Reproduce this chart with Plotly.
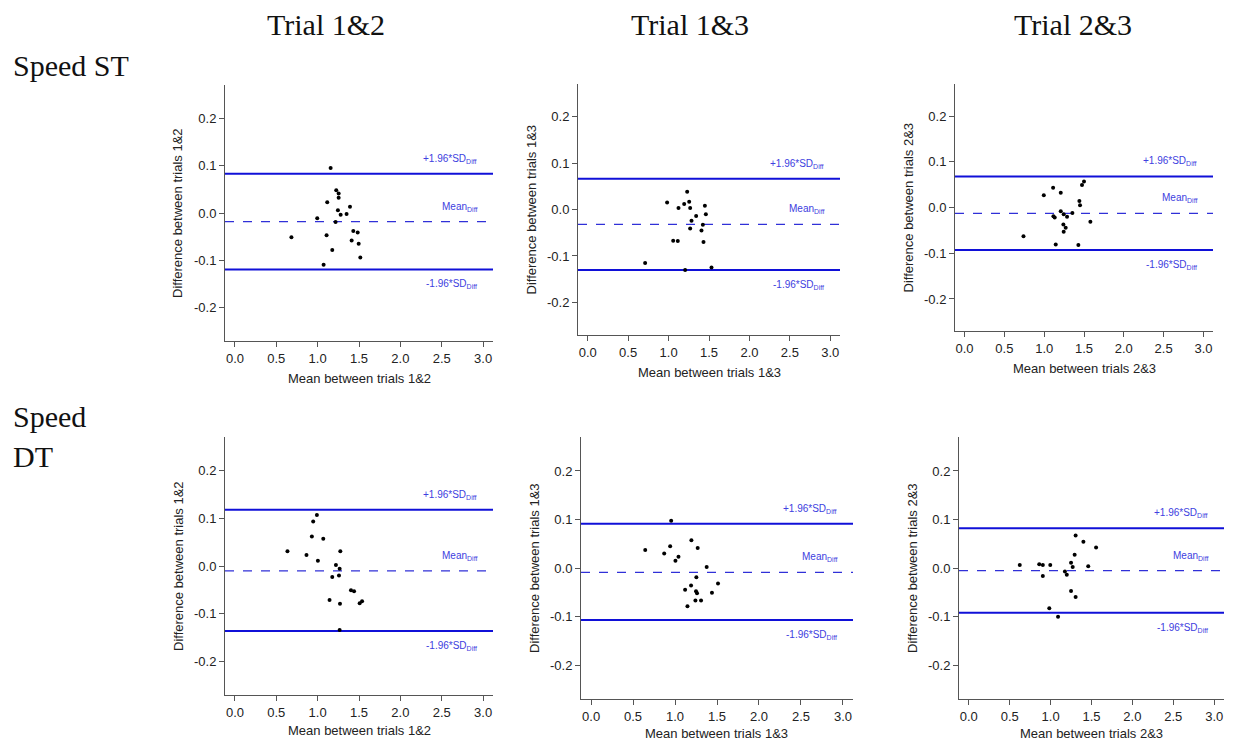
import plotly.graph_objects as go

# page body has an 8px margin (top/left); work in window pixels and convert
OFF = 8
W, H = 1233 - OFF, 742 - OFF

# ---------------- data ----------------
col_titles = ["Trial 1&2", "Trial 1&3", "Trial 2&3"]
row_titles = ["Speed ST", "Speed", "DT"]
pair_labels = ["1&2", "1&3", "2&3"]

st12_x = [1.157, 1.225, 1.254, 1.254, 1.116, 1.391, 1.245, 1.278, 1.350, 0.995,
          1.217, 0.683, 1.108, 1.431, 1.484, 1.411, 1.496, 1.177, 1.516, 1.072]
st12_y = [0.095, 0.048, 0.041, 0.032, 0.0225, 0.0134, 0.006, -0.0035, -0.002, -0.011,
          -0.019, -0.051, -0.047, -0.038, -0.041, -0.058, -0.065, -0.078, -0.094, -0.109]
st12_lines = [-0.018, 0.083, -0.119]   # mean, upper, lower

st13_x = [1.230, 0.982, 1.255, 1.193, 1.123, 1.267, 1.449, 1.461, 1.341, 1.284,
          1.424, 1.267, 1.407, 1.057, 1.114, 1.432, 0.710, 1.531, 1.205]
st13_y = [0.038, 0.015, 0.0165, 0.012, 0.003, 0.003, 0.008, -0.010, -0.014, -0.024,
          -0.033, -0.041, -0.045, -0.067, -0.068, -0.070, -0.115, -0.125, -0.130]
st13_lines = [-0.032, 0.066, -0.130]

st23_x = [1.500, 1.475, 1.112, 0.995, 1.208, 1.442, 1.450, 1.208, 1.354, 1.116,
          1.132, 1.245, 1.287, 1.580, 1.241, 1.270, 1.245, 0.740, 1.145, 1.429]
st23_y = [0.057, 0.049, 0.043, 0.027, 0.032, 0.014, 0.005, -0.008, -0.012, -0.019,
          -0.022, -0.015, -0.020, -0.031, -0.037, -0.044, -0.053, -0.063, -0.081, -0.082]
st23_lines = [-0.013, 0.068, -0.093]

dt12_x = [0.991, 0.946, 0.930, 1.068, 0.635, 1.274, 0.865, 1.003, 1.221, 1.266,
          1.177, 1.258, 1.403, 1.440, 1.144, 1.270, 1.508, 1.537, 1.266]
dt12_y = [0.107, 0.093, 0.062, 0.057, 0.031, 0.031, 0.023, 0.011, 0.002, -0.006,
          -0.023, -0.020, -0.051, -0.053, -0.071, -0.079, -0.078, -0.074, -0.134]
dt12_lines = [-0.010, 0.1175, -0.136]

dt13_x = [0.954, 1.195, 0.645, 0.942, 1.270, 0.871, 1.041, 1.005, 1.377, 1.254,
          1.191, 1.512, 1.120, 1.250, 1.262, 1.440, 1.243, 1.310, 1.148]
dt13_y = [0.0976, 0.057, 0.037, 0.045, 0.041, 0.030, 0.023, 0.015, 0.002, -0.019,
          -0.036, -0.032, -0.045, -0.048, -0.052, -0.051, -0.067, -0.067, -0.079]
dt13_lines = [-0.009, 0.091, -0.107]

dt23_x = [1.306, 1.401, 1.556, 1.294, 1.250, 1.270, 1.460, 0.623, 0.861, 0.905,
          0.996, 1.175, 1.198, 0.905, 1.250, 1.306, 0.984, 1.091]
dt23_y = [0.067, 0.054, 0.042, 0.0275, 0.011, 0.002, 0.0035, 0.006, 0.0075, 0.006,
          0.006, -0.007, -0.014, -0.0165, -0.0475, -0.060, -0.083, -0.1005]
dt23_lines = [-0.0055, 0.082, -0.092]

x_tickvals = [0.0, 0.5, 1.0, 1.5, 2.0, 2.5, 3.0]
x_ticktext = ["0.0", "0.5", "1.0", "1.5", "2.0", "2.5", "3.0"]
y_tickvals = [-0.2, -0.1, 0.0, 0.1, 0.2]
y_ticktext = ["-0.2", "-0.1", "0.0", "0.1", "0.2"]
line_labels = ["Mean<sub>Diff</sub>", "+1.96*SD<sub>Diff</sub>", "-1.96*SD<sub>Diff</sub>"]


def px(v):
    return min(1.0, max(0.0, (v - OFF) / W))


def py(v):
    return min(1.0, max(0.0, 1 - (v - OFF) / H))


# ---------------- layout geometry (pixel boxes of plot regions, window coords) ----------------
boxes = [  # left, right, top, bottom
    (225, 493, 85, 341),
    (578, 840, 84, 335),
    (955, 1213, 84, 331),
    (225, 493, 437, 695),
    (581, 853, 437, 699),
    (959, 1224, 437, 699),
]
xtitle_y = [378, 372, 368, 730, 733, 733]
panels = [
    (st12_x, st12_y, st12_lines, pair_labels[0]),
    (st13_x, st13_y, st13_lines, pair_labels[1]),
    (st23_x, st23_y, st23_lines, pair_labels[2]),
    (dt12_x, dt12_y, dt12_lines, pair_labels[0]),
    (dt13_x, dt13_y, dt13_lines, pair_labels[1]),
    (dt23_x, dt23_y, dt23_lines, pair_labels[2]),
]

fig = go.Figure()
shapes = []
annotations = []

line_col = "#1010d8"
dash_col = "#3030d8"
lab_col = "#4040e0"
axis_col = "#555555"
txt_col = "#222222"
sans = "Liberation Sans, Arial"

for i, ((xs, ys, lines, pl), (l, r, t, b)) in enumerate(zip(panels, boxes)):
    n = "" if i == 0 else str(i + 1)
    xa, ya = "x" + n, "y" + n
    fig.add_trace(go.Scatter(
        x=xs, y=ys, mode="markers", xaxis=xa, yaxis=ya,
        marker=dict(color="black", size=4), showlegend=False, hoverinfo="skip"))
    common = dict(showline=True, linecolor=axis_col, linewidth=1, ticks="outside",
                  ticklen=5, tickcolor=axis_col, showgrid=False, zeroline=False,
                  tickfont=dict(family=sans, size=13, color=txt_col))
    fig.update_layout(**{
        ("xaxis" + n): dict(domain=[px(l), px(r)], range=[-0.12, 3.12], anchor=ya,
                            tickvals=x_tickvals, ticktext=x_ticktext, **common),
        ("yaxis" + n): dict(domain=[py(b), py(t)], range=[-0.27, 0.27], anchor=xa,
                            tickvals=y_tickvals, ticktext=y_ticktext, **common),
    })
    ref_x = xa + " domain"
    for k, val in enumerate(lines):
        shapes.append(dict(type="line", xref=ref_x, yref=ya, x0=0, x1=1, y0=val, y1=val,
                           line=dict(color=dash_col if k == 0 else line_col,
                                     width=1.2 if k == 0 else 2,
                                     dash="dash" if k == 0 else "solid"),
                           layer="below"))
        annotations.append(dict(xref=xa, yref=ya, x=2.95, y=val, xanchor="right",
                                yanchor="middle", yshift=-15 if k == 2 else 15,
                                text=line_labels[k], showarrow=False,
                                font=dict(family=sans, size=10, color=lab_col)))
    # axis titles
    annotations.append(dict(xref="paper", yref="paper", x=px((l + r) / 2),
                            y=py(xtitle_y[i]), xanchor="center", yanchor="middle",
                            text="Mean between trials " + pl, showarrow=False,
                            font=dict(family=sans, size=13, color=txt_col)))
    annotations.append(dict(xref="paper", yref="paper", x=px(l - 47),
                            y=py((t + b) / 2), xanchor="center", yanchor="middle",
                            textangle=-90,
                            text="Difference between trials " + pl, showarrow=False,
                            font=dict(family=sans, size=13, color=txt_col)))

serif = dict(family="Liberation Serif, Times New Roman, serif", size=30, color="#111111")
for txt, cx in zip(col_titles, [326, 690, 1073]):
    annotations.append(dict(xref="paper", yref="paper", x=px(cx), y=py(25),
                            xanchor="center", yanchor="middle", text=txt,
                            showarrow=False, font=serif))
for txt, cy in zip(row_titles, [66, 417, 456]):
    annotations.append(dict(xref="paper", yref="paper", x=px(11), y=py(cy),
                            xanchor="left", yanchor="middle", text=txt,
                            showarrow=False, font=serif))

fig.update_layout(
    width=W, height=H, margin=dict(l=0, r=0, t=0, b=0),
    paper_bgcolor="white", plot_bgcolor="white",
    shapes=shapes, annotations=annotations, showlegend=False,
)

fig.write_html("out.html")
